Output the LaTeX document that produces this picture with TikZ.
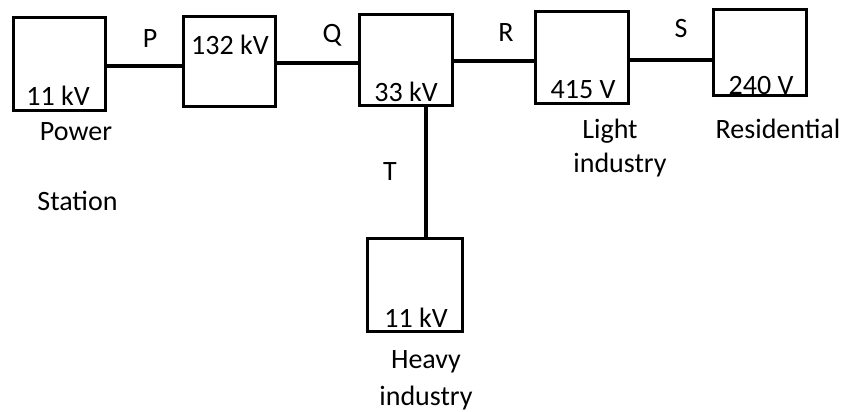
\documentclass[tikz,border=0pt]{standalone}
\usepackage{fontspec}
\setmainfont{Carlito}
\begin{document}
\begin{tikzpicture}[x=1pt,y=-1pt,
  box/.style={draw,line width=3.2pt,inner sep=0pt,outer sep=0pt},
  wire/.style={line width=3.2pt},
  txt/.style={inner sep=0pt,anchor=base,font=\fontsize{28}{33}\selectfont}]
\useasboundingbox (0,0) rectangle (846,412);
% boxes
\node[box,minimum width=92pt,minimum height=93pt] (b1) at (59.5,64) {};
\node[box,minimum width=92pt,minimum height=90pt] (b2) at (229.5,61.5) {};
\node[box,minimum width=93pt,minimum height=91pt] (b3) at (406,60) {};
\node[box,minimum width=93pt,minimum height=92pt] (b4) at (582,57.5) {};
\node[box,minimum width=93pt,minimum height=86pt] (b5) at (760,52.5) {};
\node[box,minimum width=95pt,minimum height=93pt] (b6) at (415,285) {};
% connector guides
\coordinate (yP) at (0,66);
\coordinate (yQ) at (0,63);
\coordinate (yR) at (0,61);
\coordinate (yS) at (0,60);
\coordinate (xT) at (426,0);
\draw[wire] (b1.east |- yP) -- (b2.west |- yP);
\draw[wire] (b2.east |- yQ) -- (b3.west |- yQ);
\draw[wire] (b3.east |- yR) -- (b4.west |- yR);
\draw[wire] (b4.east |- yS) -- (b5.west |- yS);
\draw[wire] (b3.south -| xT) -- (b6.north -| xT);
% line labels
\node[txt] (lP) at (150,48) {P};
\node[txt] (lQ) at (332,43) {Q};
\node[txt] (lR) at (506,42) {R};
\node[txt] (lS) at (681,38) {S};
\node[txt] (lT) at (390,180) {T};
% voltages
\node[txt] (v1) at (58,106) {11 kV};
\node[txt] (v2) at (230,55) {132 kV};
\node[txt] (v3) at (406,102) {33 kV};
\node[txt] (v4) at (583,99) {415 V};
\node[txt] (v5) at (761,94) {240 V};
\node[txt] (v6) at (416,327) {11 kV};
% names
\node[txt] (n1a) at (76,140) {Power};
\node[txt] (n1b) at (77.5,210) {Station};
\node[txt] (n4a) at (610,138) {Light};
\node[txt] (n4b) at (620,172) {industry};
\node[txt] (n5) at (778,138) {Residential};
\node[txt] (n6a) at (426,368) {Heavy};
\node[txt] (n6b) at (426,405) {industry};
\end{tikzpicture}
\end{document}
